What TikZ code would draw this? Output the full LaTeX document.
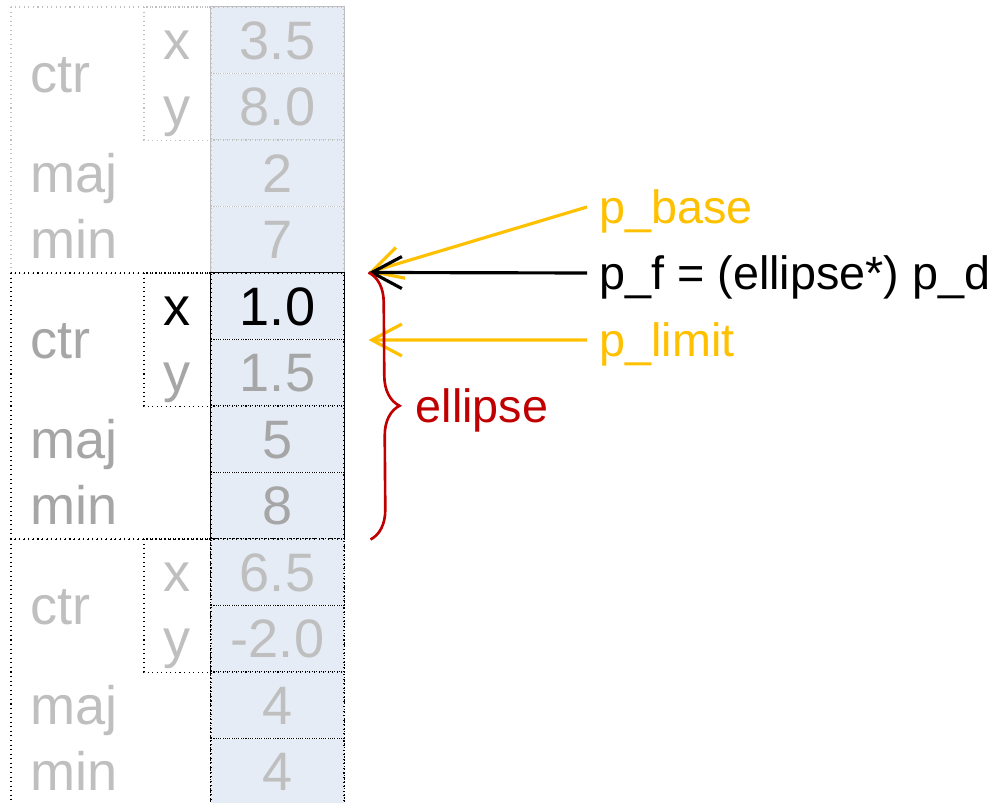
\documentclass[tikz,border=0pt]{standalone}
\usepackage{fontspec}
\setmainfont{Liberation Sans}
\usepackage{tikz}
\usetikzlibrary{arrows.meta,positioning,calc,decorations.pathreplacing}
\definecolor{cellbg}{HTML}{E6ECF6}
\definecolor{faint}{HTML}{BFBFBF}
\definecolor{midgray}{HTML}{A6A6A6}
\definecolor{gold}{HTML}{FFC000}
\definecolor{darkred}{HTML}{C00000}

\begin{document}
\begin{tikzpicture}[x=0.02cm, y=-0.02cm,
 >={Straight Barb[length=0.6cm,width=0.64cm]},
 tbl/.style={inner sep=0pt,text height=0.76cm,text depth=0pt,font=\fontsize{30.8}{37}\selectfont},
 cellv/.style={tbl,draw,dotted,line width=0.6pt,fill=cellbg,minimum width=2.66cm,minimum height=1.33cm},
 rowlab/.style={tbl,anchor=west},
 coordlab/.style={tbl},
 lab/.style={anchor=west,inner xsep=0.24cm,inner ysep=0pt,text height=0.66cm,text depth=0pt,font=\fontsize{26.6}{32}\selectfont},
 ptr/.style={->,line width=1.8pt},
 grp/.style={dotted,line width=0.6pt}]
\useasboundingbox (0,0) rectangle (998,803);
% ellipse 0
\node[cellv,draw=faint,text=faint] (v1) at (277.5,40.25) {3.5};
\node[cellv,draw=faint,text=faint] (v2) at (277.5,106.75) {8.0};
\node[cellv,draw=faint,text=faint] (v3) at (277.5,173.25) {2};
\node[cellv,draw=faint,text=faint] (v4) at (277.5,239.75) {7};
\node[rowlab,text=faint] (c1) at (30,73.5) {ctr};
\node[coordlab,text=faint] (x1) at (177.5,40.25) {x};
\node[coordlab,text=faint] (y1) at (177.5,106.75) {y};
\node[rowlab,text=faint] (maj1) at (30,173.25) {maj};
\node[rowlab,text=faint] (min1) at (30,239.75) {min};
\draw[grp,faint] (11,7) rectangle (v4.south west);
\draw[grp,faint] (144,7) rectangle (v2.south west);
\draw[faint,line width=0.6pt] (v1.north west) rectangle (v4.south east);
% ellipse 1
\node[cellv,text=black] (v5) at (277.5,306.25) {1.0};
\node[cellv,text=midgray] (v6) at (277.5,372.75) {1.5};
\node[cellv,text=midgray] (v7) at (277.5,439.25) {5};
\node[cellv,text=midgray] (v8) at (277.5,505.75) {8};
\node[rowlab,text=midgray] (c2) at (30,339.5) {ctr};
\node[coordlab,text=black] (x2) at (177.5,306.25) {x};
\node[coordlab,text=midgray] (y2) at (177.5,372.75) {y};
\node[rowlab,text=midgray] (maj2) at (30,439.25) {maj};
\node[rowlab,text=midgray] (min2) at (30,505.75) {min};
\draw[grp] (11,273) rectangle (v8.south west);
\draw[grp] (144,273) rectangle (v6.south west);
\draw[line width=0.8pt] (v5.north west) rectangle (v8.south east);
% ellipse 2
\node[cellv,text=faint] (v9) at (277.5,572.25) {6.5};
\node[cellv,text=faint] (v10) at (277.5,638.75) {-2.0};
\node[cellv,text=faint] (v11) at (277.5,705.25) {4};
\node[cellv,text=faint] (v12) at (277.5,771.75) {4};
\node[rowlab,text=faint] (c3) at (30,605.5) {ctr};
\node[coordlab,text=faint] (x3) at (177.5,572.25) {x};
\node[coordlab,text=faint] (y3) at (177.5,638.75) {y};
\node[rowlab,text=faint] (maj3) at (30,705.25) {maj};
\node[rowlab,text=faint] (min3) at (30,771.75) {min};
\draw[grp] (11,539) rectangle (v12.south west);
\draw[grp] (144,539) rectangle (v10.south west);
\draw[densely dotted,line width=0.8pt] (v9.north west) rectangle (v12.south east);
% pointers
\coordinate (tipF) at ($(v5.north east)+(24,0)$);
\coordinate (tipL) at ($(v5.south east)+(24,0)$);
\coordinate (brBot) at ($(v8.south east)+(26,0)$);
\node[lab,text=gold] (pbase) at (587,207) {p\_base};
\node[lab] (pf) at (587,273) {p\_f = (ellipse*) p\_d};
\node[lab,text=gold] (plimit) at (587,340) {p\_limit};
\draw[ptr,gold] (pbase.west) -- (tipF);
\draw[ptr,gold] (plimit.west) -- (tipL);
\draw[ptr] (pf.west) -- (tipF);
\draw[darkred,line width=1.5pt,decorate,decoration={brace,amplitude=0.6cm}] (tipF) -- (brBot);
\node[lab,text=darkred] (ellab) at ($(tipF)!0.5!(brBot)+(34,0)$) {ellipse};
\end{tikzpicture}
\end{document}
